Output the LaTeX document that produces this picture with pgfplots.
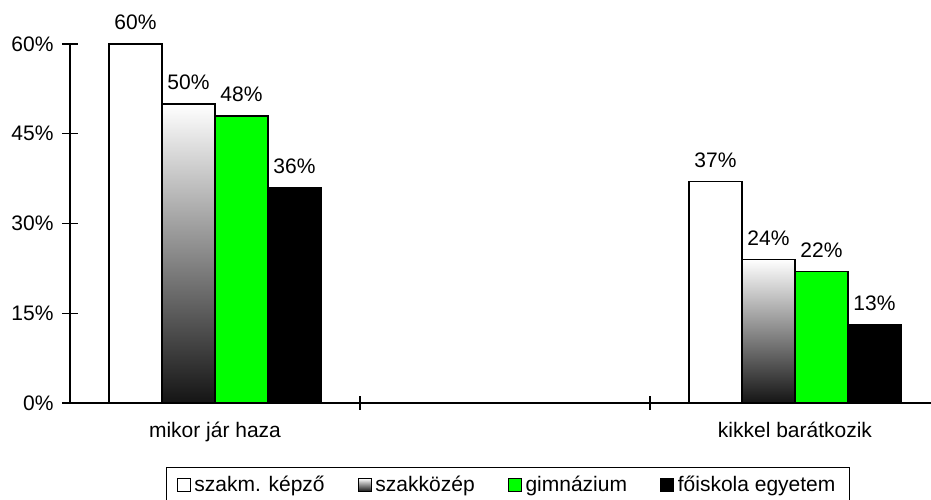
\documentclass[border=0pt]{standalone}
\usepackage{fontspec}
\setmainfont{Liberation Sans}
\usepackage{pgfplots}
\pgfplotsset{compat=1.18}
\begin{document}
\begin{tikzpicture}[x=1pt,y=1pt,font=\fontsize{21}{25}\selectfont]
\path[use as bounding box] (-70,-97) rectangle (861,403);
\begin{axis}[
    at={(0,0)}, anchor=south west,
    scale only axis, width=861pt, height=359pt,
    clip=false,
    xmin=-0.5, xmax=2.469, ymin=0, ymax=60,
    ybar=0pt, bar width=53pt,
    axis x line*=bottom, axis y line*=left,
    axis line style={-, line width=1.2pt},
    tick style={line width=1.2pt, black},
    tick align=center,
    major tick length=16pt,
    ytick={0,15,30,45,60},
    yticklabel={\pgfmathprintnumber{\tick}\%},
    yticklabel style={xshift=-5pt},
    /pgf/number format/assume math mode=true,
    xtick={0,2},
    xticklabels={mikor jár haza, kikkel barátkozik},
    major x tick style={draw=none},
    minor xtick={0.5,1.5},
    minor tick length=14pt,
    xticklabel style={yshift=-8pt},
    nodes near coords={\pgfmathprintnumber{\pgfplotspointmeta}\%},
    every node near coord/.append style={text=black, yshift=10pt},
    legend style={at={(0.5087,-0.178)}, anchor=north, legend columns=4,
        draw=black, line width=1.2pt, inner xsep=10pt, inner ysep=7pt,
        nodes={inner xsep=4pt},
        /tikz/every even column/.append style={column sep=29pt}},
    legend image code/.code={\draw[#1, line width=0.8pt] (0pt,-6.5pt) rectangle (13pt,6.5pt);},
]
\addplot[draw=black, line width=1.5pt, fill=white, bar shift=-79.5pt] coordinates {(0,60) (2,37)};
\addlegendentry{szakm. képző}
\addplot[draw=black, line width=1.5pt, top color=white, bottom color=black!92, bar shift=-26.5pt] coordinates {(0,50)};
\addlegendentry{szakközép}
\addplot[draw=black, line width=1.5pt, fill=green, bar shift=26.5pt] coordinates {(0,48) (2,22)};
\addlegendentry{gimnázium}
\addplot[draw=black, line width=1.5pt, fill=black, bar shift=79.5pt] coordinates {(0,36) (2,13)};
\addlegendentry{főiskola egyetem}
\addplot[draw=black, line width=1.5pt, top color=white, bottom color=black!92, bar shift=-26.5pt, forget plot] coordinates {(2,24)};
\end{axis}
\end{tikzpicture}
\end{document}
